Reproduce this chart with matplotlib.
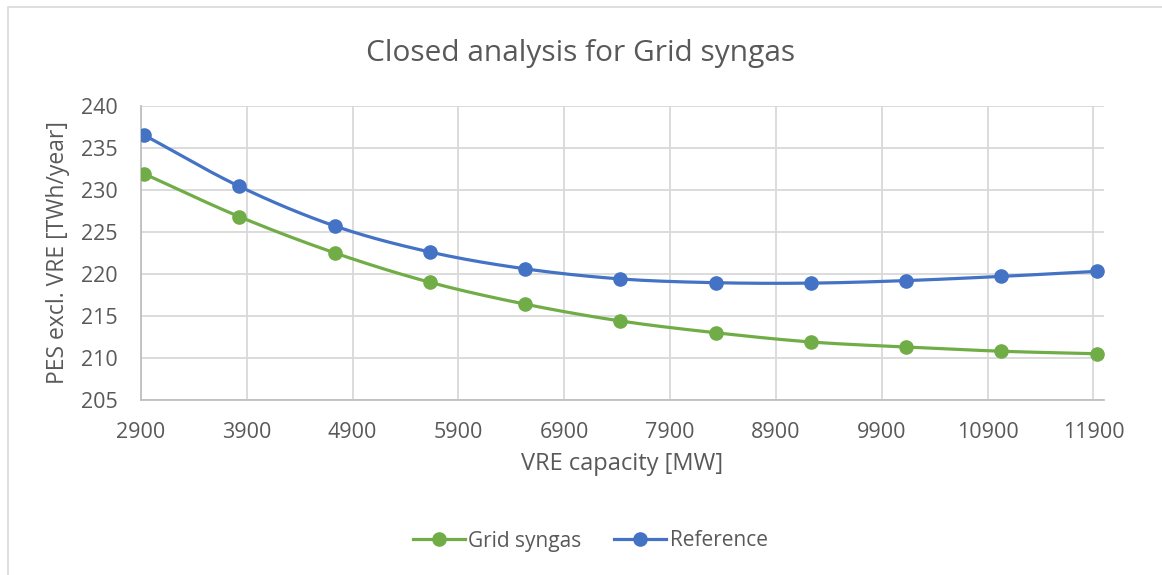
import numpy as np
import matplotlib
matplotlib.use('Agg')
import matplotlib.pyplot as plt
from matplotlib.patches import Rectangle

# values
vre_capacity = [2930, 3830, 4730, 5630, 6530, 7430, 8330, 9230, 10130, 11030, 11930]
grid_syngas = [231.9, 226.8, 222.5, 219.0, 216.4, 214.4, 213.0, 211.9, 211.3, 210.8, 210.5]
reference = [236.5, 230.4, 225.7, 222.6, 220.6, 219.4, 218.95, 218.9, 219.2, 219.7, 220.3]
x_ticks = list(range(2900, 12000, 1000))
y_ticks = list(range(205, 241, 5))

GREEN = '#70AD47'
BLUE = '#4472C4'
TXT = '#595959'
GRID = '#d9d9d9'

plt.rcParams['font.family'] = ['Open Sans', 'DejaVu Sans']


def smooth(xs, ys, n=30):
  # catmull-rom curve through the points, like excel's smoothed line
  xs = np.asarray(xs, float); ys = np.asarray(ys, float)
  px = np.concatenate(([2*xs[0]-xs[1]], xs, [2*xs[-1]-xs[-2]]))
  py = np.concatenate(([2*ys[0]-ys[1]], ys, [2*ys[-1]-ys[-2]]))
  outx, outy = [], []
  t = np.linspace(0, 1, n, endpoint=False)
  for i in range(1, len(px)-2):
    for p, out in ((px, outx), (py, outy)):
      p0, p1, p2, p3 = p[i-1], p[i], p[i+1], p[i+2]
      out.extend(0.5*((2*p1) + (-p0+p2)*t + (2*p0-5*p1+4*p2-p3)*t**2 + (-p0+3*p1-3*p2+p3)*t**3))
  outx.append(xs[-1]); outy.append(ys[-1])
  return np.array(outx), np.array(outy)


fig = plt.figure(figsize=(11.62, 5.75), dpi=100)
fig.patches.append(Rectangle((8/1162, -0.01), 1.1, 1 - 7/575 + 0.01, transform=fig.transFigure,
                             fill=False, edgecolor=GRID, linewidth=1.2))
ax = fig.add_axes([141/1162, 1-400/575, (1104-141)/1162, (400-105.7)/575])

for ys, col, lab in ((grid_syngas, GREEN, 'Grid syngas'), (reference, BLUE, 'Reference')):
  sx, sy = smooth(vre_capacity, ys)
  ax.plot(sx, sy, color=col, linewidth=2.3, solid_capstyle='round', zorder=3)
  ax.plot(vre_capacity, ys, linestyle='none', marker='o', markersize=9.5, color=col, zorder=4)
  ax.plot([], [], color=col, linewidth=2.3, marker='o', markersize=9.5, label=lab)

ax.set_xlim(2900, 12000)
ax.set_ylim(205, 240)
ax.set_xticks(x_ticks)
ax.set_yticks(y_ticks)
ax.grid(True, color=GRID, linewidth=1.3)
ax.set_axisbelow(True)
for s in ('top', 'right'):
  ax.spines[s].set_visible(False)
for s in ('left', 'bottom'):
  ax.spines[s].set_color('#bfbfbf')
  ax.spines[s].set_linewidth(1.3)
ax.tick_params(length=0, labelsize=15.5, colors=TXT)
ax.tick_params(axis='x', pad=16)
ax.tick_params(axis='y', pad=17)

ax.set_xlabel('VRE capacity [MW]', fontsize=17, color=TXT, labelpad=6)
ax.set_ylabel('PES excl. VRE [TWh/year]', fontsize=16.5, color=TXT, labelpad=8)
fig.text(0.5, 1-54/575, 'Closed analysis for Grid syngas', fontsize=21.5, color=TXT,
         ha='center', va='center')

leg = fig.legend(loc='center', bbox_to_anchor=(590/1162, 1-541/575), ncol=2, frameon=False,
                 fontsize=15, handlelength=2.5, columnspacing=1.6, handletextpad=0.15)
for t in leg.get_texts():
  t.set_color(TXT)

fig.savefig('out.png', dpi=100)
